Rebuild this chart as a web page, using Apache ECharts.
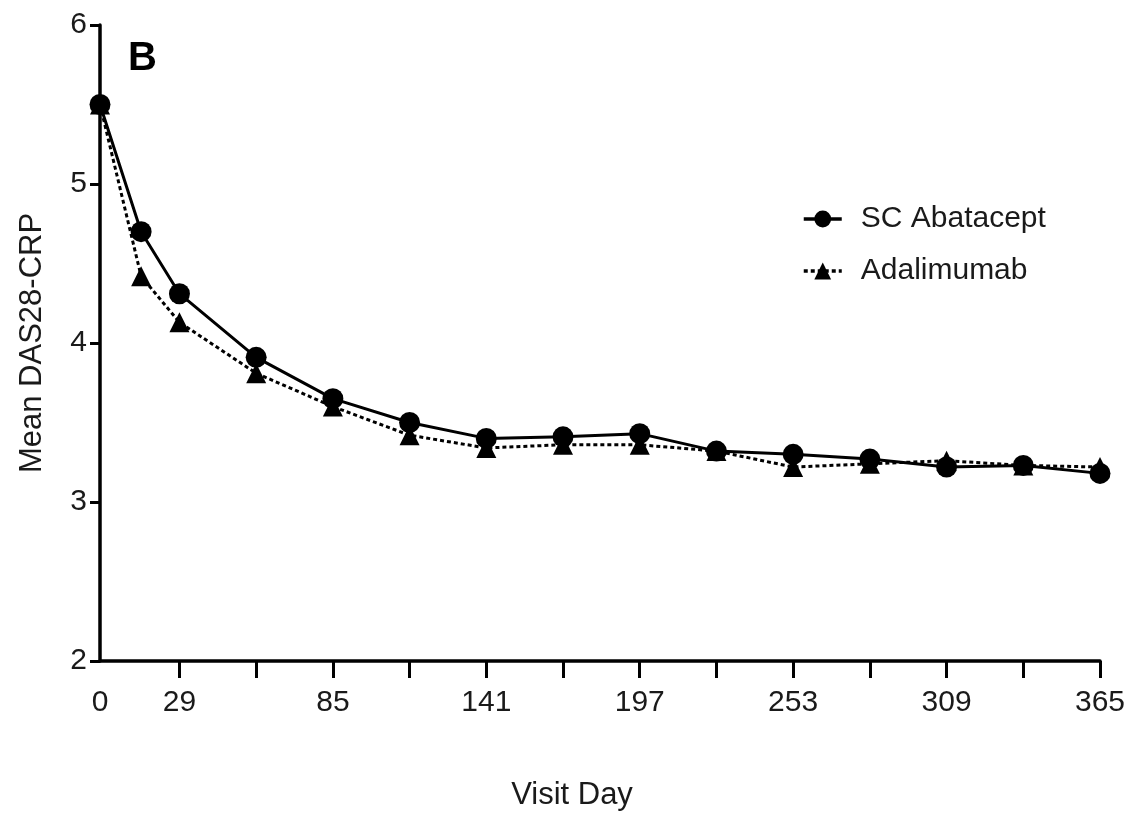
<!DOCTYPE html>
<html>
<head>
<meta charset="utf-8">
<title>Mean DAS28-CRP by visit day</title>
<script src="https://cdn.jsdelivr.net/npm/echarts@6/dist/echarts.min.js"></script>
<style>
  html, body { margin: 0; padding: 0; background: #fff; }
  #main { width: 1132px; height: 816px; }
</style>
</head>
<body>
<div id="main"></div>
<script>
// visit days (x) and the mean DAS28-CRP
var visitDays = [0, 15, 29, 57, 85, 113, 141, 169, 197, 225, 253, 281, 309, 337, 365];
var abatacept = [5.50, 4.70, 4.31, 3.91, 3.65, 3.50, 3.40, 3.41, 3.43, 3.32, 3.30, 3.27, 3.22, 3.23, 3.18];
var adalimumab = [5.50, 4.42, 4.13, 3.81, 3.60, 3.42, 3.34, 3.36, 3.36, 3.32, 3.22, 3.24, 3.26, 3.23, 3.22];
var xLabelDays = [0, 29, 85, 141, 197, 253, 309, 365];
var xTickDays = [29, 57, 85, 113, 141, 169, 197, 225, 253, 281, 309, 337, 365];

var font = 'Liberation Sans, Arial, Helvetica, sans-serif';
var ink = '#1a1a1a';

function pairs(ys) {
    var out = [];
    for (var i = 0; i < visitDays.length; i++) out.push([visitDays[i], ys[i]]);
    return out;
}

var myChart = echarts.init(document.getElementById('main'), null, {renderer: 'canvas'});

var option = {
    backgroundColor: '#fff',
    animation: false,
    title: {
        text: 'B',
        left: 123,
        top: 34,
        textStyle: {fontFamily: font, fontSize: 40, fontWeight: 'bold', color: '#000'}
    },
    legend: {
        orient: 'vertical',
        left: 797,
        top: 199,
        itemWidth: 38,
        itemHeight: 21,
        itemGap: 22,
        lineStyle: {width: 3.5},
        textStyle: {fontFamily: font, fontSize: 30, color: ink, padding: [0, 0, 0, 14]},
        data: ['SC Abatacept', 'Adalimumab']
    },
    grid: {left: 100, right: 32, top: 25, bottom: 153},
    xAxis: {
        type: 'value',
        min: 0,
        max: 365,
        name: 'Visit Day',
        nameLocation: 'middle',
        nameGap: 119,
        nameTextStyle: {fontFamily: font, fontSize: 31, color: ink, padding: [0, 56, 0, 0]},
        axisLine: {show: true, onZero: false, lineStyle: {color: '#000', width: 3.5}},
        axisTick: {show: true, length: 17, customValues: xTickDays, lineStyle: {color: '#000', width: 3}},
        axisLabel: {customValues: xLabelDays, margin: 27, fontFamily: font, fontSize: 30, color: ink},
        splitLine: {show: false}
    },
    yAxis: {
        type: 'value',
        min: 2,
        max: 6,
        interval: 1,
        name: 'Mean DAS28-CRP',
        nameLocation: 'middle',
        nameGap: 52,
        nameTextStyle: {fontFamily: font, fontSize: 31, color: ink},
        axisLine: {show: true, lineStyle: {color: '#000', width: 3.5}},
        axisTick: {show: true, length: 10, lineStyle: {color: '#000', width: 3}},
        axisLabel: {margin: 13, fontFamily: font, fontSize: 30, color: ink},
        splitLine: {show: false}
    },
    series: [
        {
            name: 'SC Abatacept',
            type: 'line',
            z: 3,
            data: pairs(abatacept),
            symbol: 'circle',
            symbolSize: 21,
            itemStyle: {color: '#000'},
            lineStyle: {color: '#000', width: 3, type: 'solid'}
        },
        {
            name: 'Adalimumab',
            type: 'line',
            z: 2,
            data: pairs(adalimumab),
            symbol: 'triangle',
            symbolSize: 20,
            itemStyle: {color: '#000'},
            lineStyle: {color: '#000', width: 3, type: [4, 3]}
        }
    ]
};

myChart.setOption(option);
</script>
</body>
</html>
